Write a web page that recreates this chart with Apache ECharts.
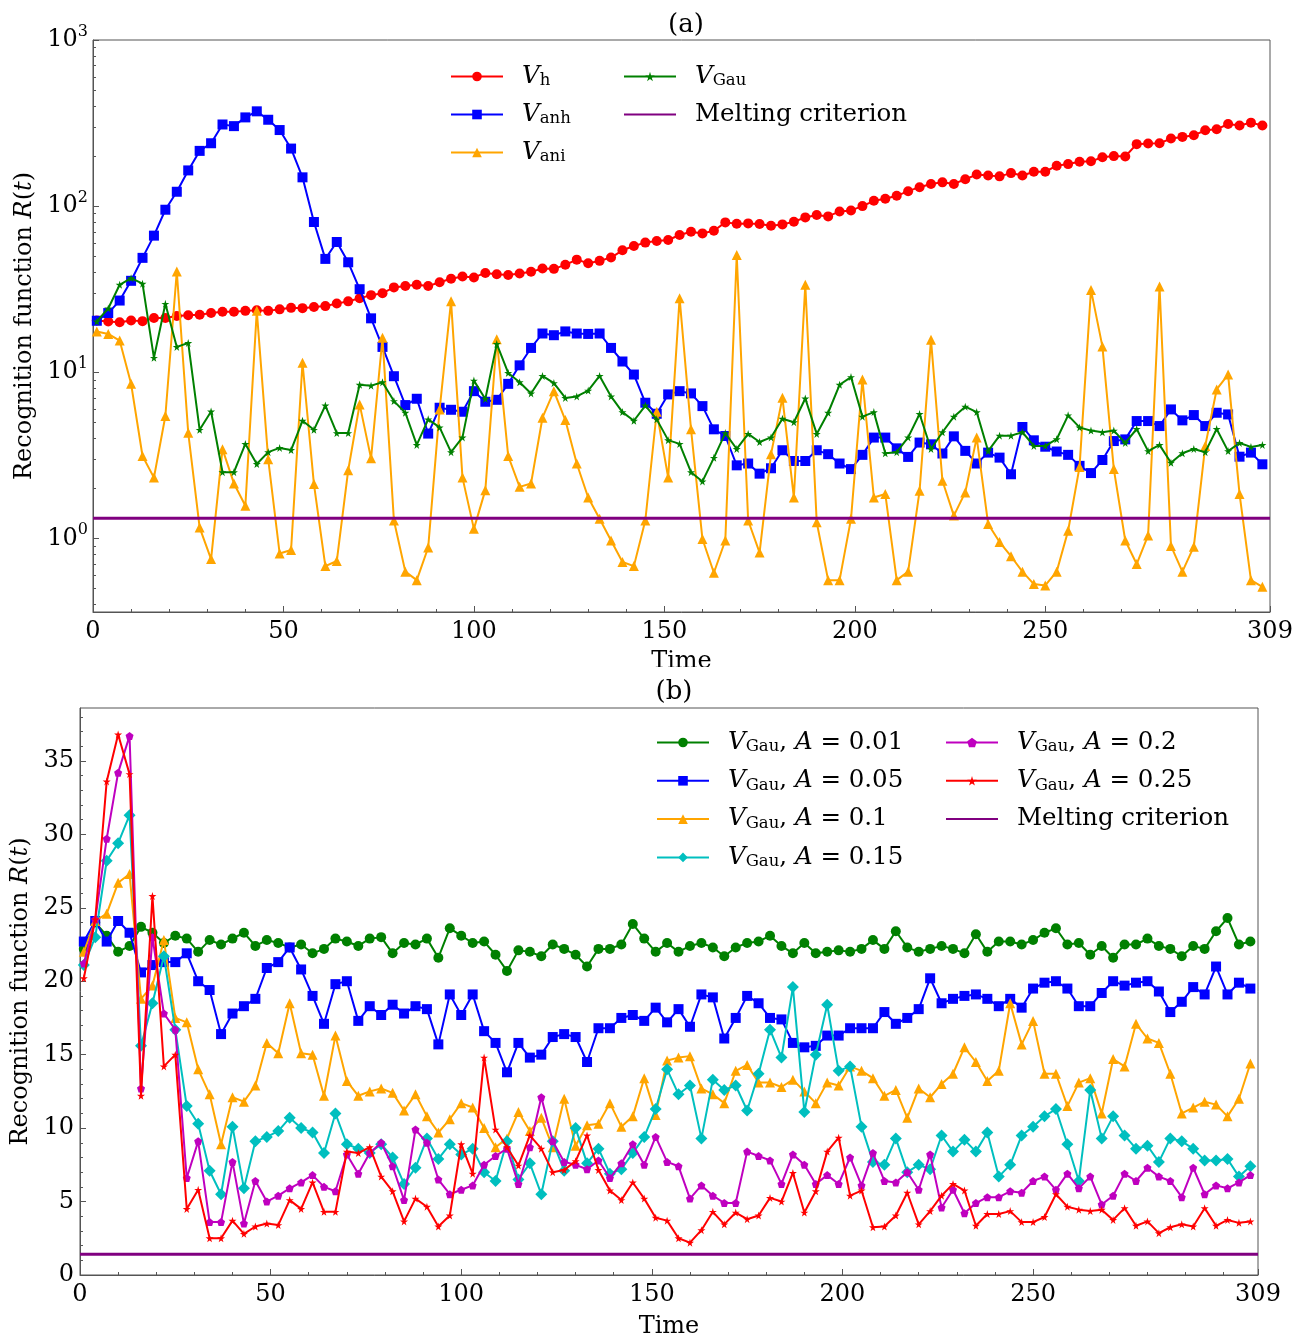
<!DOCTYPE html>
<html>
<head>
<meta charset="utf-8">
<script src="https://cdn.jsdelivr.net/npm/echarts@6/dist/echarts.min.js"></script>
<style>
  body { margin: 0; background: #fff; }
  .panel { position: absolute; left: 0; width: 1304px; height: 667px; }
  #chart-a { top: 0; }
  #chart-b { top: 667px; }
</style>
</head>
<body>
<div id="chart-a" class="panel"></div>
<div id="chart-b" class="panel"></div>
<script>
// sampling times (every 3 steps)
const time = [1,4,7,10,13,16,19,22,25,28,31,34,37,40,43,46,49,52,55,58,61,64,67,70,73,76,
  79,82,85,88,91,94,97,100,103,106,109,112,115,118,121,124,127,130,133,136,139,142,145,148,151,154,
  157,160,163,166,169,172,175,178,181,184,187,190,193,196,199,202,205,208,211,214,217,220,223,226,229,
  232,235,238,241,244,247,250,253,256,259,262,265,268,271,274,277,280,283,286,289,292,295,298,301,304,307];

// panel (a)
const vH = [20.5,20.2,20.0,20.5,20.3,21.2,21.2,21.8,22.0,22.2,22.7,23.1,23.1,23.4,23.6,23.4,23.9,24.4,24.3,24.7,25.0,25.9,26.7,27.9,29.1,29.9,
  32.4,33.0,33.6,33.0,34.8,36.5,37.7,37.2,39.6,38.9,38.5,39.3,40.2,42.1,41.9,44.3,47.6,45.3,46.8,49.0,54.2,57.5,60.3,61.7,62.5,67.0,
  70.1,68.5,71.1,79.8,78.3,78.7,78.0,76.2,77.6,80.5,85.5,88.3,86.7,92.9,94.2,100,107.6,110.7,115.3,123,130,136,139,136,145,
  155,153,151,158,153,161,161,175,179,185,186,197,200,199,236,238,239,255,261,267,286,290,312,306,318,306];
const vAnh = [20.4,22.7,27.0,35.5,48.8,66.4,95.1,122,164,215,239,310,303,342,372,331,287,222,149,80.2,48.1,60.8,45.9,31.6,21.1,14.2,
  9.46,6.34,6.92,4.27,6.11,5.94,5.78,7.69,6.64,6.82,8.51,11.0,14.0,17.1,16.7,17.6,17.1,17.0,17.1,14.0,11.6,9.68,6.55,5.62,7.35,7.69,
  7.45,6.25,4.53,4.13,2.75,2.82,2.45,2.64,3.39,2.92,2.92,3.39,3.21,2.82,2.61,3.18,4.04,4.04,3.48,3.09,3.77,3.68,3.24,4.11,3.36,
  2.82,3.28,3.06,2.43,4.68,3.89,3.56,3.33,3.18,2.73,2.47,2.96,3.85,3.94,5.08,5.08,4.74,5.97,5.13,5.52,4.74,5.70,5.57,3.10,3.28,2.79];
const vAni = [17.6,17.0,15.5,8.51,3.13,2.32,5.45,40.4,4.32,1.16,0.75,3.44,2.14,1.57,23.4,2.99,0.81,0.85,11.4,2.12,0.68,0.73,2.57,6.40,3.03,16.1,
  1.28,0.63,0.56,0.88,5.97,26.7,2.32,1.14,1.95,15.8,3.13,2.04,2.14,5.32,7.69,5.15,2.82,1.76,1.31,0.97,0.72,0.68,1.28,5.78,2.32,27.9,
  4.53,0.99,0.62,0.97,50.8,1.28,0.82,3.21,7.01,1.76,33.6,1.25,0.56,0.56,1.31,9.04,1.76,1.85,0.56,0.63,1.93,15.7,2.22,1.37,1.89,
  4.04,1.22,0.95,0.78,0.63,0.53,0.52,0.63,1.11,2.69,31.3,14.3,2.61,0.97,0.70,1.04,32.8,0.90,0.63,0.89,3.60,7.87,9.68,1.85,0.56,0.51];
const meltA = 1.32;

// panel (b): Gaussian potential for several amplitudes A
const gau001 = [22.2,24.0,23.1,22.0,22.4,23.7,23.3,22.6,23.1,22.9,22.0,22.8,22.5,22.9,23.3,22.4,22.8,22.6,22.3,22.5,21.9,22.2,22.9,22.7,22.4,22.9,
  23.0,21.9,22.6,22.5,22.9,21.6,23.6,23.1,22.6,22.7,21.8,20.7,22.1,22.0,21.7,22.5,22.2,21.8,21.0,22.2,22.2,22.5,23.9,22.9,22.0,22.6,
  22.0,22.4,22.6,22.3,21.7,22.3,22.6,22.7,23.1,22.4,21.9,22.6,21.9,22.0,22.1,22.0,22.2,22.8,22.2,23.4,22.3,22.0,22.2,22.4,22.2,
  21.9,23.2,22.0,22.7,22.7,22.5,22.8,23.3,23.6,22.5,22.6,21.8,22.4,21.6,22.5,22.5,22.9,22.4,22.2,21.7,22.4,22.2,23.4,24.3,22.5,22.7];
const gau005 = [22.7,24.1,22.7,24.1,23.3,20.6,21.1,21.3,21.3,21.9,20.0,19.4,16.4,17.8,18.3,18.8,20.9,21.3,22.3,20.8,19.0,17.1,19.8,20.0,17.3,18.3,
  17.7,18.4,17.8,18.3,18.1,15.7,19.1,17.7,19.1,16.6,15.8,13.8,15.8,14.8,15.0,16.2,16.4,16.2,14.5,16.8,16.8,17.5,17.7,17.3,18.2,17.2,
  18.1,16.9,19.1,18.9,16.1,17.5,19.0,18.5,17.5,17.4,15.8,15.5,15.6,16.3,16.3,16.8,16.8,16.8,17.9,17.1,17.5,18.1,20.2,18.5,18.8,
  19.0,19.1,18.8,18.3,18.8,18.2,19.5,19.9,20.0,19.5,18.3,18.3,19.2,20.0,19.7,19.9,20.0,19.3,17.9,18.6,19.6,19.1,21.0,19.1,19.9,19.5];
const gau01 = [22.0,24.1,24.6,26.7,27.3,18.8,19.7,22.8,17.5,17.2,14.0,12.3,8.9,12.1,11.8,12.9,15.8,15.1,18.5,15.1,15.0,12.2,16.3,13.2,12.2,12.5,
  12.7,12.4,11.2,12.3,10.8,9.7,10.6,11.7,11.4,10.0,8.7,9.3,11.1,9.8,10.7,8.7,12.0,8.8,10.2,10.3,11.7,10.1,10.8,13.4,10.9,14.6,
  14.8,14.9,12.7,12.3,11.7,13.9,14.3,13.1,13.1,12.8,13.3,12.5,11.7,13.1,12.9,14.2,13.9,13.4,12.2,12.6,10.7,12.7,12.1,13.0,13.7,
  15.5,14.5,13.2,13.9,18.5,15.7,17.3,13.7,13.7,11.5,13.1,13.4,11.0,14.7,14.2,17.1,16.1,15.8,13.7,11.0,11.4,11.8,11.6,10.8,12.0,14.4];
const gau015 = [21.1,23.0,28.2,29.4,31.3,15.6,18.5,21.7,16.7,11.5,10.3,7.1,5.5,10.1,5.9,9.1,9.4,9.8,10.7,10.0,9.7,8.3,11.0,8.9,8.6,8.3,
  8.9,8.0,6.2,7.3,9.3,7.9,8.9,8.2,8.6,7.0,6.4,9.1,6.5,7.6,5.5,9.1,7.1,10.0,7.6,8.6,6.9,7.2,8.3,9.4,11.3,14.0,
  12.3,12.9,9.3,13.3,12.6,12.9,11.2,13.7,16.7,14.8,19.6,11.1,15.0,18.4,13.9,14.2,10.1,7.7,7.5,9.3,7.0,7.5,7.2,9.5,8.4,
  9.2,8.4,9.7,6.7,7.5,9.5,10.1,10.8,11.3,8.9,6.4,12.6,9.3,10.8,9.5,8.6,8.8,7.7,9.3,9.1,8.6,7.8,7.8,7.9,6.7,7.4];
const gau02 = [21.2,24.2,29.7,34.2,36.7,12.7,23.0,17.8,16.7,6.6,9.1,3.6,3.6,7.7,3.5,6.4,5.0,5.4,5.9,6.3,6.8,6.0,5.7,8.2,6.9,8.3,
  9.0,7.4,5.1,9.9,9.0,6.5,5.5,5.8,6.1,7.5,8.1,8.6,6.2,8.7,12.1,9.1,7.7,7.5,7.2,7.8,6.6,7.6,8.9,7.5,9.4,7.7,
  7.4,5.2,6.1,5.4,4.9,4.9,8.4,8.1,7.8,6.2,8.2,7.5,6.2,6.8,6.2,8.0,6.1,8.3,6.4,6.3,7.0,5.8,8.2,4.6,5.8,
  4.2,4.9,5.3,5.3,5.7,5.6,6.4,6.7,5.8,6.9,5.9,6.7,4.8,5.4,6.9,6.4,7.3,6.7,6.4,5.3,7.3,5.5,6.1,5.9,6.3,6.8];
// A = 0.25 is also the V_Gau curve of panel (a)
const gau025 = [20.2,24.2,33.6,36.8,34.1,12.2,25.8,14.2,15.0,4.5,5.8,2.5,2.5,3.7,2.8,3.3,3.5,3.4,5.1,4.5,6.3,4.3,4.3,8.4,8.3,8.7,
  6.7,5.7,3.65,5.2,4.65,3.3,4.05,8.9,6.9,14.8,9.9,8.7,7.45,9.5,8.6,7.0,7.15,7.75,9.5,7.15,5.75,5.1,6.3,5.2,3.9,3.7,
  2.5,2.2,3.05,4.3,3.45,4.25,3.8,4.05,5.25,5.0,6.95,4.25,5.7,8.4,9.35,5.4,5.75,3.25,3.3,4.05,5.6,3.45,4.35,5.4,6.2,
  5.75,3.35,4.15,4.15,4.35,3.6,3.6,3.95,5.5,4.65,4.45,4.35,4.45,3.75,4.55,3.35,3.65,2.85,3.25,3.45,3.3,4.55,3.35,3.75,3.55,3.65];
const meltB = 1.41;

// ticks
const xTicks = [0, 50, 100, 150, 200, 250, 309];
const xMinor = [10,20,30,40,60,70,80,90,110,120,130,140,160,170,180,190,210,220,230,240,260,270,280,290,300];
const logTicks = [1, 10, 100, 1000];
const logMinor = [0.4,0.5,0.6,0.7,0.8,0.9,2,3,4,5,6,7,8,9,20,30,40,50,60,70,80,90,200,300,400,500,600,700,800,900];
const linTicks = [0, 5, 10, 15, 20, 25, 30, 35];
const linMinor = [1,2,3,4,6,7,8,9,11,12,13,14,16,17,18,19,21,22,23,24,26,27,28,29,31,32,33,34,36,37,38];

const F = "'DejaVu Serif', serif";
const FRAME = '#555';
const FS = 24;
const STAR = 'path://M50,0 L61,35 L98,35 L68,57 L79,91 L50,70 L21,91 L32,57 L2,35 L39,35 Z';
const PENT = 'path://M50,0 L98,36 L80,95 L20,95 L2,36 Z';

const richText = {
  n: { fontFamily: F, fontSize: 24.5, lineHeight: 26, color: '#000' },
  i: { fontFamily: F, fontSize: 24.5, fontStyle: 'italic', lineHeight: 26, color: '#000' },
  s: { fontFamily: F, fontSize: 16.5, lineHeight: 14, verticalAlign: 'bottom', color: '#000' }
};
const nameRich = {
  n: { fontFamily: F, fontSize: FS, color: '#000' },
  i: { fontFamily: F, fontSize: FS, fontStyle: 'italic', color: '#000' }
};

function lineSeries(name, vals, color, symbol, size, z) {
  return {
    name: name, type: 'line', z: z,
    data: vals.map((v, i) => [time[i], v]),
    symbol: symbol, symbolSize: size, showAllSymbol: true,
    lineStyle: { width: 2, color: color },
    itemStyle: { color: color },
    emphasis: { disabled: true }
  };
}

function meltSeries(val) {
  return {
    name: 'melt', type: 'line', z: 10, symbol: 'none',
    data: [[0, val], [309, val]],
    lineStyle: { width: 3, color: '#800080' },
    itemStyle: { color: 'rgba(0,0,0,0)' }
  };
}

function xAxes(gap) {
  return [{
    type: 'value', min: 0, max: 309,
    name: 'Time', nameLocation: 'middle', nameGap: gap,
    nameTextStyle: { fontFamily: F, fontSize: FS, color: '#000' },
    axisLine: { show: true, lineStyle: { color: FRAME } },
    axisTick: { inside: true, length: 6, customValues: xTicks, lineStyle: { color: FRAME } },
    axisLabel: { customValues: xTicks, margin: 8, fontFamily: F, fontSize: FS, color: '#000' },
    splitLine: { show: false }
  }, {
    type: 'value', min: 0, max: 309, position: 'bottom',
    axisLine: { show: false },
    axisTick: { inside: true, length: 3, customValues: xMinor, lineStyle: { color: FRAME } },
    axisLabel: { show: false },
    splitLine: { show: false }
  }];
}

function legendCol(names, left, top, gap, labels) {
  return {
    orient: 'vertical', left: left, top: top, itemGap: gap, padding: 0,
    itemWidth: 52, itemHeight: 12,
    data: names,
    formatter: name => labels[name],
    textStyle: { padding: [0, 0, 0, 14], rich: richText }
  };
}

const yName = '{n|Recognition function }{i|R}{n|(}{i|t}{n|)}';

// ---- panel (a)
const labelsA = {
  vh: '{i|V}{s|h}', vanh: '{i|V}{s|anh}', vani: '{i|V}{s|ani}',
  vgau: '{i|V}{s|Gau}', melt: '{n|Melting criterion}'
};
const chartA = echarts.init(document.getElementById('chart-a'));
chartA.setOption({
  animation: false,
  title: { text: '(a)', left: 681, top: 7, textAlign: 'center',
    textStyle: { fontFamily: F, fontSize: 26, fontWeight: 'normal', color: '#000' } },
  grid: { left: 93, top: 40, width: 1177, height: 572, outerBoundsMode: 'none',
    show: true, borderColor: FRAME, borderWidth: 1 },
  legend: [
    legendCol(['vh', 'vanh', 'vani'], 450, 64, 12.5, labelsA),
    legendCol(['vgau', 'melt'], 623, 64, 12.5, labelsA)
  ],
  xAxis: xAxes(38),
  yAxis: [{
    type: 'log', logBase: 10, min: 0.36, max: 1000,
    name: yName, nameLocation: 'middle', nameGap: 55, nameRotate: 90,
    nameTextStyle: { rich: nameRich },
    axisLine: { show: true, lineStyle: { color: FRAME } },
    axisTick: { inside: true, length: 6, customValues: logTicks, lineStyle: { color: FRAME } },
    axisLabel: {
      customValues: logTicks, margin: 5,
      formatter: v => '{b|10}{e|' + Math.round(Math.log10(v)) + '}',
      rich: {
        b: { fontFamily: F, fontSize: FS, lineHeight: 32, color: '#000' },
        e: { fontFamily: F, fontSize: 16, lineHeight: 16, verticalAlign: 'top', color: '#000' }
      }
    },
    splitLine: { show: false }
  }, {
    type: 'log', logBase: 10, min: 0.36, max: 1000, position: 'left',
    axisLine: { show: false },
    axisTick: { inside: true, length: 3, customValues: logMinor, lineStyle: { color: FRAME } },
    axisLabel: { show: false },
    splitLine: { show: false }
  }],
  series: [
    lineSeries('vh', vH, '#ff0000', 'circle', 10, 2),
    lineSeries('vanh', vAnh, '#0000ff', 'rect', 10, 3),
    lineSeries('vani', vAni, '#ffa500', 'triangle', 10, 4),
    lineSeries('vgau', gau025, '#008000', STAR, 8, 5),
    meltSeries(meltA)
  ]
});

// ---- panel (b)
const labelsB = {
  a001: '{i|V}{s|Gau}{n|, }{i|A}{n| = 0.01}',
  a005: '{i|V}{s|Gau}{n|, }{i|A}{n| = 0.05}',
  a01: '{i|V}{s|Gau}{n|, }{i|A}{n| = 0.1}',
  a015: '{i|V}{s|Gau}{n|, }{i|A}{n| = 0.15}',
  a02: '{i|V}{s|Gau}{n|, }{i|A}{n| = 0.2}',
  a025: '{i|V}{s|Gau}{n|, }{i|A}{n| = 0.25}',
  melt: '{n|Melting criterion}'
};
const chartB = echarts.init(document.getElementById('chart-b'));
chartB.setOption({
  animation: false,
  title: { text: '(b)', left: 669, top: 7, textAlign: 'center',
    textStyle: { fontFamily: F, fontSize: 26, fontWeight: 'normal', color: '#000' } },
  grid: { left: 80, top: 41, width: 1178, height: 567, outerBoundsMode: 'none',
    show: true, borderColor: FRAME, borderWidth: 1 },
  legend: [
    legendCol(['a001', 'a005', 'a01', 'a015'], 656, 63, 12.8, labelsB),
    legendCol(['a02', 'a025', 'melt'], 945, 63, 12.8, labelsB)
  ],
  xAxis: xAxes(40),
  yAxis: [{
    type: 'value', min: 0, max: 38.6,
    name: yName, nameLocation: 'middle', nameGap: 40, nameRotate: 90,
    nameTextStyle: { rich: nameRich },
    axisLine: { show: true, lineStyle: { color: FRAME } },
    axisTick: { inside: true, length: 6, customValues: linTicks, lineStyle: { color: FRAME } },
    axisLabel: { customValues: linTicks, margin: 6, fontFamily: F, fontSize: FS, color: '#000' },
    splitLine: { show: false }
  }, {
    type: 'value', min: 0, max: 38.6, position: 'left',
    axisLine: { show: false },
    axisTick: { inside: true, length: 3, customValues: linMinor, lineStyle: { color: FRAME } },
    axisLabel: { show: false },
    splitLine: { show: false }
  }],
  series: [
    lineSeries('a001', gau001, '#008000', 'circle', 10, 2),
    lineSeries('a005', gau005, '#0000ff', 'rect', 10, 3),
    lineSeries('a01', gau01, '#ffa500', 'triangle', 10, 4),
    lineSeries('a015', gau015, '#00bfbf', 'diamond', 12, 5),
    lineSeries('a02', gau02, '#bf00bf', PENT, 8, 6),
    lineSeries('a025', gau025, '#ff0000', STAR, 8, 7),
    meltSeries(meltB)
  ]
});
</script>
</body>
</html>
